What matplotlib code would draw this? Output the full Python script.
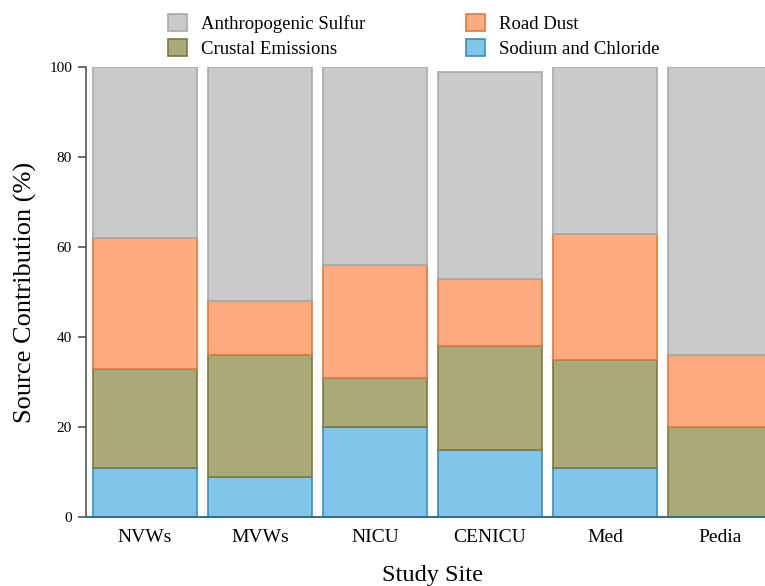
import matplotlib
matplotlib.use("Agg")
import matplotlib.pyplot as plt
import numpy as np

sites = ["NVWs", "MVWs", "NICU", "CENICU", "Med", "Pedia"]
sodium = [11, 9, 20, 15, 11, 0]
crustal = [22, 27, 11, 23, 24, 20]
road = [29, 12, 25, 15, 28, 16]
sulfur = [38, 52, 44, 46, 37, 64]

series = [
    ("Sodium and Chloride", sodium, "#80c6ea", "#3f8db5"),
    ("Crustal Emissions", crustal, "#aaa97a", "#7c7a40"),
    ("Road Dust", road, "#fbab7e", "#d57d45"),
    ("Anthropogenic Sulfur", sulfur, "#cacaca", "#a9a9a9"),
]

plt.rcParams["font.family"] = ["Liberation Serif", "DejaVu Serif"]

fig = plt.figure(figsize=(7.65, 5.86), dpi=100)
ax = fig.add_axes([86 / 765, 1 - 517 / 586, (779 - 86) / 765, (517 - 67) / 586])

x = np.arange(len(sites))
bottom = np.zeros(len(sites))
handles = {}
for name, vals, fc, ec in series:
    b = ax.bar(x, vals, bottom=bottom, width=0.91, color=fc, edgecolor=ec,
               linewidth=1.2, label=name)
    handles[name] = b
    bottom += np.array(vals)

ax.set_xlim(-0.513, 5.513)
ax.set_ylim(0, 100)
ax.set_yticks([0, 20, 40, 60, 80, 100])
ax.set_xticks(x)
ax.set_xticklabels(sites, fontsize=14)
ax.tick_params(axis="y", labelsize=11, length=6, width=1.2, color="#555555", pad=4)
ax.tick_params(axis="x", length=0, pad=8.5)
for s in ["top", "right"]:
    ax.spines[s].set_visible(False)
ax.spines["left"].set_color("#555555")
ax.spines["left"].set_linewidth(1.2)
ax.spines["bottom"].set_color("#3a6f80")
ax.spines["bottom"].set_linewidth(1.5)

ax.set_ylabel("Source Contribution (%)", fontsize=19, labelpad=9)
ax.set_xlabel("Study Site", fontsize=17.5, labelpad=14)

order = ["Anthropogenic Sulfur", "Crustal Emissions", "Road Dust", "Sodium and Chloride"]
leg = fig.legend([handles[n] for n in order], order, loc="upper left",
                 bbox_to_anchor=(151 / 765, 1 + 3 / 586), ncol=2, frameon=False,
                 fontsize=13.5, handlelength=1.0, handleheight=1.0,
                 columnspacing=5.4, labelspacing=0.33, handletextpad=0.75)

fig.savefig("out.png", dpi=100)
